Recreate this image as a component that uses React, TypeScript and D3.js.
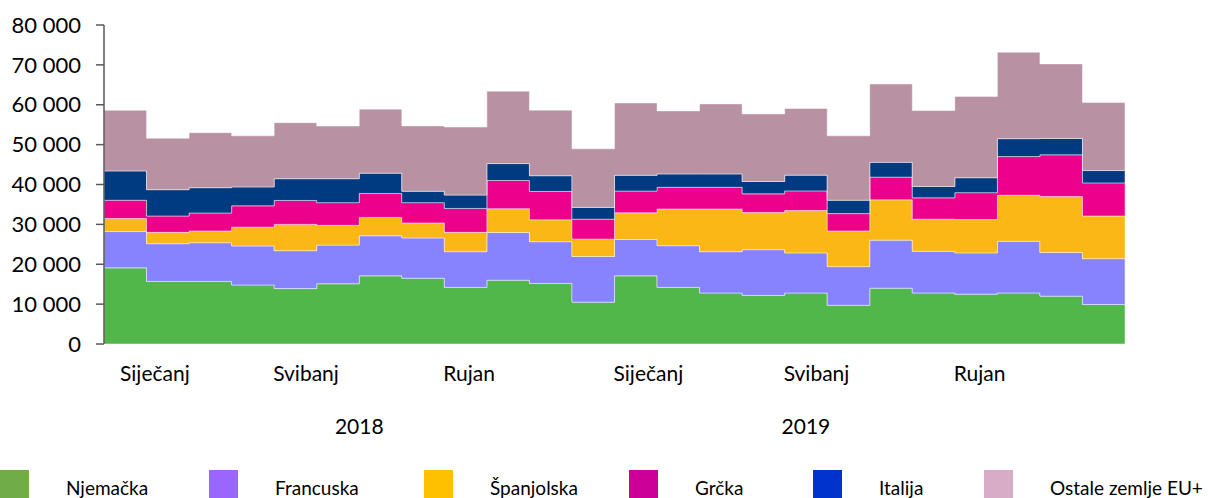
import React, { useEffect, useRef } from 'react';
import * as d3 from 'd3';

const months = ['Siječanj', 'Veljača', 'Ožujak', 'Travanj', 'Svibanj', 'Lipanj', 'Srpanj', 'Kolovoz', 'Rujan', 'Listopad', 'Studeni', 'Prosinac'];
const years = ['2018', '2019'];

const seriesNames = ['Njemačka', 'Francuska', 'Španjolska', 'Grčka', 'Italija', 'Ostale zemlje EU+'];

const njemacka = [19100, 15700, 15700, 14800, 13900, 15100, 17100, 16500, 14200, 16000, 15200, 10500, 17100, 14200, 12800, 12200, 12800, 9700, 14000, 12800, 12500, 12800, 12000, 9900];
const francuska = [9100, 9450, 9700, 9800, 9500, 9700, 10050, 10100, 8950, 11950, 10450, 11450, 9100, 10450, 10350, 11450, 10050, 9700, 12050, 10450, 10350, 12950, 10950, 11500];
const spanjolska = [3250, 2850, 2950, 4700, 6600, 4950, 4600, 3750, 4850, 5950, 5500, 4350, 6700, 9200, 10700, 9300, 10600, 8950, 10100, 8050, 8350, 11550, 14050, 10700];
const grcka = [4600, 4100, 4500, 5350, 6000, 5700, 6000, 5100, 6000, 7100, 7100, 5000, 5450, 5450, 5450, 4700, 4950, 4350, 5700, 5350, 6750, 9700, 10450, 8300];
const italija = [7350, 6600, 6350, 4750, 5450, 6000, 5100, 2850, 3350, 4250, 3950, 2950, 3950, 3350, 3350, 3100, 3950, 3350, 3700, 2850, 3750, 4500, 4100, 3100];
const ostale = [15200, 12900, 13800, 12800, 14050, 13200, 16050, 16400, 17050, 18150, 16450, 14700, 18150, 15800, 17550, 16950, 16700, 16150, 19650, 19050, 20400, 21650, 18700, 17050];

const yTicks = [0, 10000, 20000, 30000, 40000, 50000, 60000, 70000, 80000];

const fillColors = ['#52B74A', '#8782FE', '#FBB715', '#EC008C', '#003B82', '#B891A3'];
const legendColors = ['#70AD47', '#9966FF', '#FFC000', '#CC0099', '#0033CC', '#D8ACC6'];
const legendX = [0, 209, 424, 629, 813, 984];

const W = 1208;
const H = 498;
const FONT = 'Lato, Carlito, Calibri, sans-serif';

const App: React.FC = () => {
  const svgRef = useRef<SVGSVGElement>(null);

  useEffect(() => {
    if (!svgRef.current) return;
    const svg = d3.select(svgRef.current);
    svg.selectAll('*').remove();

    const values = [njemacka, francuska, spanjolska, grcka, italija, ostale];
    const n = njemacka.length;
    // one extra row so the last step reaches the right edge
    const rows = d3.range(n + 1).map(i => {
      const r: Record<string, number> = { i };
      seriesNames.forEach((s, k) => { r[s] = values[k][Math.min(i, n - 1)]; });
      return r;
    });

    const stacked = d3.stack<Record<string, number>>().keys(seriesNames)(rows);

    const x = d3.scaleLinear().domain([0, n]).range([104, 1125]);
    const y = d3.scaleLinear().domain([0, 80000]).range([344, 25]);

    const area = d3.area<d3.SeriesPoint<Record<string, number>>>()
      .x(d => x(d.data.i))
      .y0(d => y(d[0]))
      .y1(d => y(d[1]))
      .curve(d3.curveStepAfter);

    svg.append('g')
      .selectAll('path')
      .data(stacked)
      .enter()
      .append('path')
      .attr('d', d => area(d) as string)
      .attr('fill', (_, k) => fillColors[k])
      .attr('stroke', 'rgba(255,255,255,0.45)')
      .attr('stroke-width', 1);

    // y axis
    const axis = svg.append('g');
    axis.append('line')
      .attr('x1', 104).attr('x2', 104)
      .attr('y1', y(80000)).attr('y2', y(0))
      .attr('stroke', '#595959').attr('stroke-width', 1.5);
    axis.selectAll('line.tick')
      .data(yTicks)
      .enter()
      .append('line')
      .attr('class', 'tick')
      .attr('x1', 96).attr('x2', 104)
      .attr('y1', d => y(d)).attr('y2', d => y(d))
      .attr('stroke', '#595959').attr('stroke-width', 1.5);
    axis.selectAll('text')
      .data(yTicks)
      .enter()
      .append('text')
      .attr('x', 81)
      .attr('y', d => y(d))
      .attr('dy', '0.35em')
      .attr('text-anchor', 'end')
      .attr('font-family', FONT)
      .attr('font-size', 22)
      .attr('fill', '#000')
      .text(d => d3.format(',')(d).replace(/,/g, ' '));

    // month labels, every fourth
    const monthIdx = d3.range(n).filter(i => i % 4 === 0);
    svg.append('g')
      .selectAll('text')
      .data(monthIdx)
      .enter()
      .append('text')
      .attr('x', i => x(i) - 1 + (i === 0 ? 17 : 0))
      .attr('y', 381)
      .attr('font-family', FONT)
      .attr('font-size', 21)
      .attr('fill', '#000')
      .text(i => months[i % 12]);

    // year labels
    const yearPos = [6, 16.5];
    svg.append('g')
      .selectAll('text')
      .data(years)
      .enter()
      .append('text')
      .attr('x', (_, k) => x(yearPos[k]))
      .attr('y', 434)
      .attr('text-anchor', 'middle')
      .attr('font-family', FONT)
      .attr('font-size', 21)
      .attr('fill', '#000')
      .text(d => d);

    // legend
    const lg = svg.append('g')
      .selectAll('g')
      .data(seriesNames)
      .enter()
      .append('g')
      .attr('transform', (_, k) => `translate(${legendX[k]},470)`);
    lg.append('rect')
      .attr('width', 29).attr('height', 30)
      .attr('fill', (_, k) => legendColors[k]);
    lg.append('text')
      .attr('x', 66)
      .attr('y', 25)
      .attr('font-family', FONT)
      .attr('font-size', 19)
      .attr('fill', '#000')
      .text(d => d);
  }, []);

  return (
    <svg
      ref={svgRef}
      width={W}
      height={H}
      viewBox={`0 0 ${W} ${H}`}
      style={{ position: 'absolute', left: 0, top: 0, background: '#fff' }}
    />
  );
};

export default App;
